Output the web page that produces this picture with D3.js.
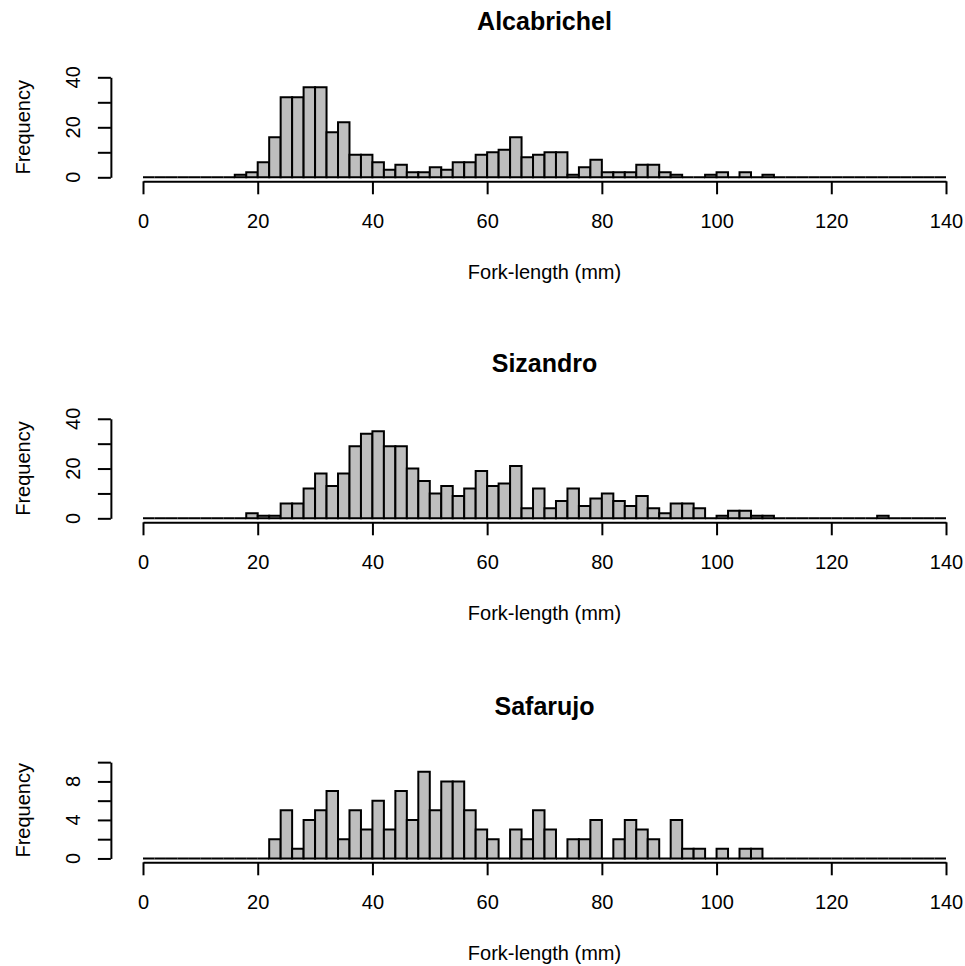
<!DOCTYPE html>
<html>
<head>
<meta charset="utf-8">
<script src="https://cdn.jsdelivr.net/npm/d3@7"></script>
<style>
  body { margin: 0; background: #fff; }
  text { font-family: "Liberation Sans", Arial, sans-serif; fill: #000; }
</style>
</head>
<body>
<svg id="canvas" width="965" height="966"></svg>
<script>
// histogram bins: 0 to 140 mm, width 2
const breaks = d3.range(0, 142, 2);

// counts per bin (bin start 0,2,4,...,138)
const alcabrichel = [
  0, 0, 0, 0, 0, 0, 0, 0, 1, 2,
  6, 16, 32, 32, 36, 36, 18, 22, 9, 9,
  6, 3, 5, 2, 2, 4, 3, 6, 6, 9,
  10, 11, 16, 8, 9, 10, 10, 1, 4, 7,
  2, 2, 2, 5, 5, 2, 1, 0, 0, 1,
  2, 0, 2, 0, 1, 0, 0, 0, 0, 0,
  0, 0, 0, 0, 0, 0, 0, 0, 0, 0
];
const sizandro = [
  0, 0, 0, 0, 0, 0, 0, 0, 0, 2,
  1, 1, 6, 6, 12, 18, 13, 18, 29, 34,
  35, 29, 29, 20, 15, 10, 13, 9, 12, 19,
  13, 14, 21, 4, 12, 4, 7, 12, 5, 8,
  10, 7, 5, 9, 4, 2, 6, 6, 4, 0,
  1, 3, 3, 1, 1, 0, 0, 0, 0, 0,
  0, 0, 0, 0, 1, 0, 0, 0, 0, 0
];
const safarujo = [
  0, 0, 0, 0, 0, 0, 0, 0, 0, 0,
  0, 2, 5, 1, 4, 5, 7, 2, 5, 3,
  6, 3, 7, 4, 9, 5, 8, 8, 5, 3,
  2, 0, 3, 2, 5, 3, 0, 2, 2, 4,
  0, 2, 4, 3, 2, 0, 4, 1, 1, 0,
  1, 0, 1, 1, 0, 0, 0, 0, 0, 0,
  0, 0, 0, 0, 0, 0, 0, 0, 0, 0
];

const titles = ["Alcabrichel", "Sizandro", "Safarujo"];
const yMax = [40, 40, 10];
const yTicks = [[0, 10, 20, 30, 40], [0, 10, 20, 30, 40], [0, 2, 4, 6, 8, 10]];
const yLabels = [[0, 20, 40], [0, 20, 40], [0, 4, 8]];
const xTicks = [0, 20, 40, 60, 80, 100, 120, 140];

let svg = d3.select("#canvas");

// plot region of each panel (top, bottom) in px
let panels = [
  { counts: alcabrichel, top: 73.3, bottom: 181.3 },
  { counts: sizandro, top: 414.8, bottom: 522.3 },
  { counts: safarujo, top: 758.3, bottom: 862.3 }
];

let x = d3.scaleLinear().domain([0, 140]).range([143, 946]);
let left = x(-5.6), right = x(145.6);

panels.forEach((p, i) => {
  let ymax = yMax[i];
  // R style 4% padding on y
  let y = d3.scaleLinear()
    .domain([-0.04 * ymax, 1.04 * ymax])
    .range([p.bottom, p.top]);

  let g = svg.append("g");

  let bins = p.counts.map((c, k) => ({ x0: breaks[k], x1: breaks[k + 1], n: c }));

  // each bin as a closed path, so empty bins still draw the base line
  g.selectAll(".bar")
    .data(bins)
    .enter()
    .append("path")
    .attr("class", "bar")
    .attr("d", d => {
      let path = d3.path();
      path.moveTo(x(d.x0), y(0));
      path.lineTo(x(d.x0), y(d.n));
      path.lineTo(x(d.x1), y(d.n));
      path.lineTo(x(d.x1), y(0));
      path.closePath();
      return path.toString();
    })
    .attr("fill", "#bebebe")
    .attr("stroke", "#000")
    .attr("stroke-width", 2)
    .attr("stroke-linejoin", "miter");

  // x axis at bottom of plot region
  let xAxis = d3.axisBottom(x)
    .tickValues(xTicks)
    .tickSize(13)
    .tickSizeOuter(0)
    .tickPadding(20)
    .tickFormat(d3.format("d"));

  let gx = g.append("g")
    .attr("transform", "translate(0," + p.bottom + ")")
    .call(xAxis);
  gx.select(".domain").attr("stroke-width", 2);
  gx.selectAll(".tick line").attr("stroke-width", 2);
  gx.selectAll(".tick text")
    .style("font-size", "20px")
    .attr("fill", "#000");

  // y axis only between first and last tick
  let yAxisScale = d3.scaleLinear().domain([0, ymax]).range([y(0), y(ymax)]);
  let gy = g.append("g")
    .attr("transform", "translate(" + left + ",0)")
    .call(d3.axisLeft(yAxisScale)
      .tickValues(yTicks[i])
      .tickSize(13)
      .tickSizeOuter(0)
      .tickFormat(""));
  gy.select(".domain").attr("stroke-width", 2);
  gy.selectAll(".tick line").attr("stroke-width", 2);

  g.selectAll(".ylab")
    .data(yLabels[i])
    .enter()
    .append("text")
    .attr("class", "ylab")
    .attr("transform", d => "translate(80," + y(d) + ") rotate(-90)")
    .attr("text-anchor", "middle")
    .style("font-size", "20px")
    .text(d => d);

  // labels
  g.append("text")
    .attr("x", (left + right) / 2)
    .attr("y", p.top - 43)
    .attr("text-anchor", "middle")
    .style("font-size", "25px")
    .style("font-weight", "bold")
    .text(titles[i]);

  g.append("text")
    .attr("x", (left + right) / 2)
    .attr("y", p.bottom + 98)
    .attr("text-anchor", "middle")
    .style("font-size", "20px")
    .text("Fork-length (mm)");

  g.append("text")
    .attr("transform", "translate(29.5," + (p.top + p.bottom) / 2 + ") rotate(-90)")
    .attr("text-anchor", "middle")
    .style("font-size", "20px")
    .text("Frequency");
});
</script>
</body>
</html>
